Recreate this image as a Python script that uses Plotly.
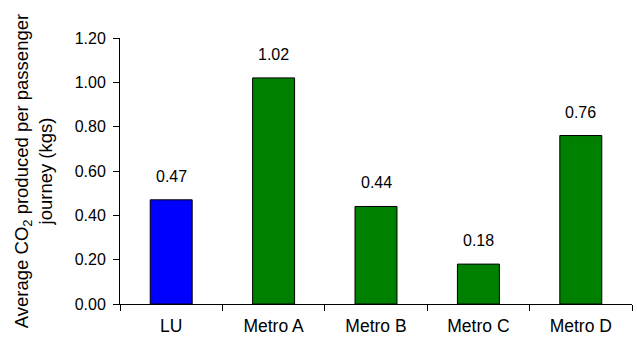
import plotly.graph_objects as go

categories = ["LU", "Metro A", "Metro B", "Metro C", "Metro D"]
co2_per_journey = [0.47, 1.02, 0.44, 0.18, 0.76]
bar_colors = ["#0000FF", "#008000", "#008000", "#008000", "#008000"]
y_ticks = [0.0, 0.2, 0.4, 0.6, 0.8, 1.0, 1.2]

font_family = "Liberation Sans, Arial, sans-serif"

fig = go.Figure(
    go.Bar(
        x=categories,
        y=co2_per_journey,
        marker=dict(color=bar_colors, line=dict(color="black", width=1)),
        width=0.41,
    )
)

# value labels above each bar
for cat, val in zip(categories, co2_per_journey):
    fig.add_annotation(
        x=cat, y=val, text=f"{val:.2f}", showarrow=False,
        yanchor="bottom", yshift=13,
        font=dict(family=font_family, size=16, color="black"),
    )

fig.update_layout(
    width=637, height=338,
    margin=dict(l=120, r=5, t=38, b=34),
    paper_bgcolor="white", plot_bgcolor="white",
    showlegend=False,
    font=dict(family=font_family, size=16, color="black"),
)
fig.update_xaxes(
    showline=True, linecolor="black", linewidth=1,
    ticks="outside", tickson="boundaries", ticklen=6, tickcolor="black",
    ticklabelstandoff=6,
    tickfont=dict(family=font_family, size=17.5),
    showgrid=False, automargin=False,
)
fig.update_yaxes(
    range=[0, 1.2], tickvals=y_ticks, tickformat=".2f",
    showline=True, linecolor="black", linewidth=1,
    ticks="outside", ticklen=6, tickcolor="black",
    ticklabelstandoff=4,
    tickfont=dict(family=font_family, size=16),
    showgrid=False, zeroline=False,
    automargin=False,
    title=dict(
        text="Average CO<sub>2</sub> produced per passenger<br>journey (kgs)",
        font=dict(family=font_family, size=18.5),
        standoff=17,
    ),
)

fig.write_html("out.html")
